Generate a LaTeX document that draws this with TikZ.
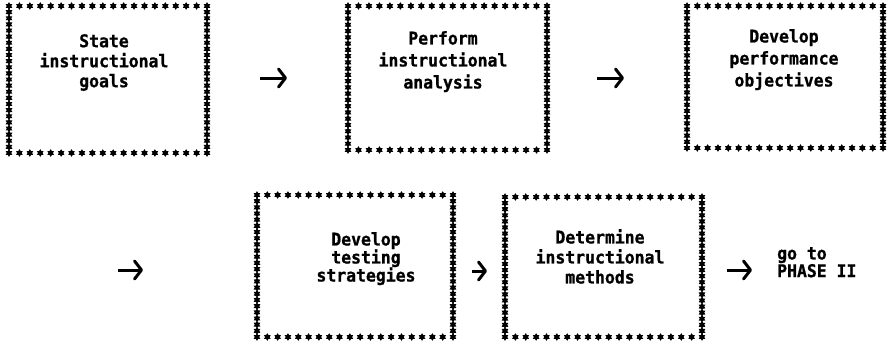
\documentclass[tikz,border=0pt]{standalone}
\usepackage{fontspec}
\newfontfamily\typer{DejaVu Sans Mono}[FakeStretch=0.94, BoldFeatures={FakeBold=1}]
\usetikzlibrary{arrows.meta}

\tikzset{
  % one filled six-pointed asterisk
  ast/.pic={\fill (90:3.8pt)--(120:2.3pt)--(150:3.8pt)--(180:2.3pt)--(210:3.8pt)--(240:2.3pt)
                --(270:3.8pt)--(300:2.3pt)--(330:3.8pt)--(0:2.3pt)--(30:3.8pt)--(60:2.3pt)--cycle;},
  starbox/.style={inner sep=0pt, draw=none, rectangle},
  txt/.style={inner sep=0pt, anchor=north, align=center,
              font=\typer\bfseries\fontsize{17.5}{#1}\selectfont},
  arr/.style={line width=3pt, -{Straight Barb[length=7pt,width=18pt,round]}},
}

% #1 name, (#2,#3) top-left star, (#4,#5) bottom-right star
\newcommand\starframe[5]{%
  \node[starbox, minimum width={(#4-#2)*1pt}, minimum height={(#5-#3)*1pt}]
    (#1) at ({(#2+#4)/2},{(#3+#5)/2}) {};
  \pgfmathtruncatemacro\nh{round((#4-#2)/10.4)}%
  \pgfmathtruncatemacro\nv{round((#5-#3)/6.2)}%
  \pgfmathtruncatemacro\nvm{\nv-1}%
  \foreach \i in {0,...,\nh} {
    \pic at ({#2+(#4-#2)*\i/\nh},#3) {ast};
    \pic at ({#2+(#4-#2)*\i/\nh},#5) {ast};
  }
  \foreach \j in {1,...,\nvm} {
    \pic at (#2,{#3+(#5-#3)*\j/\nv}) {ast};
    \pic at (#4,{#3+(#5-#3)*\j/\nv}) {ast};
  }
}

\begin{document}
\begin{tikzpicture}[x=1pt, y=-1pt]
  \useasboundingbox (0,0) rectangle (890,345);

  % first row
  \starframe{f1}{9}{6}{207}{153}
  \starframe{f2}{348}{6}{547}{150}
  \starframe{f3}{687}{6}{883}{148}
  % second row
  \starframe{f4}{257}{195}{453}{337}
  \starframe{f5}{505}{197}{702}{337}

  \node[txt=20] (t1) at (104,34) {State\\instructional\\goals};
  \node[txt=22] (t2) at (443,31) {Perform\\instructional\\analysis};
  \node[txt=22] (t3) at (784,29) {Develop\\performance\\objectives};
  \node[txt=18] (t4) at (366,232) {Develop\\testing\\strategies};
  \node[txt=20] (t5) at (600,229) {Determine\\instructional\\methods};
  \node[txt=15, anchor=north west, align=left] (t6) at (777,247) {go to\\PHASE II};

  % arrows between the steps
  \coordinate (a1s) at (260,78);  \coordinate (a1e) at (287,78);
  \coordinate (a2s) at (597,78);  \coordinate (a2e) at (624,78);
  \coordinate (a3s) at (118,270); \coordinate (a3e) at (143,270);
  \coordinate (a4s) at (472,271); \coordinate (a4e) at (487,271);
  \coordinate (a5s) at (727,270); \coordinate (a5e) at (752,270);
  \draw[arr] (a1s) -- (a1e);
  \draw[arr] (a2s) -- (a2e);
  \draw[arr] (a3s) -- (a3e);
  \draw[arr] (a4s) -- (a4e);
  \draw[arr] (a5s) -- (a5e);
\end{tikzpicture}
\end{document}
